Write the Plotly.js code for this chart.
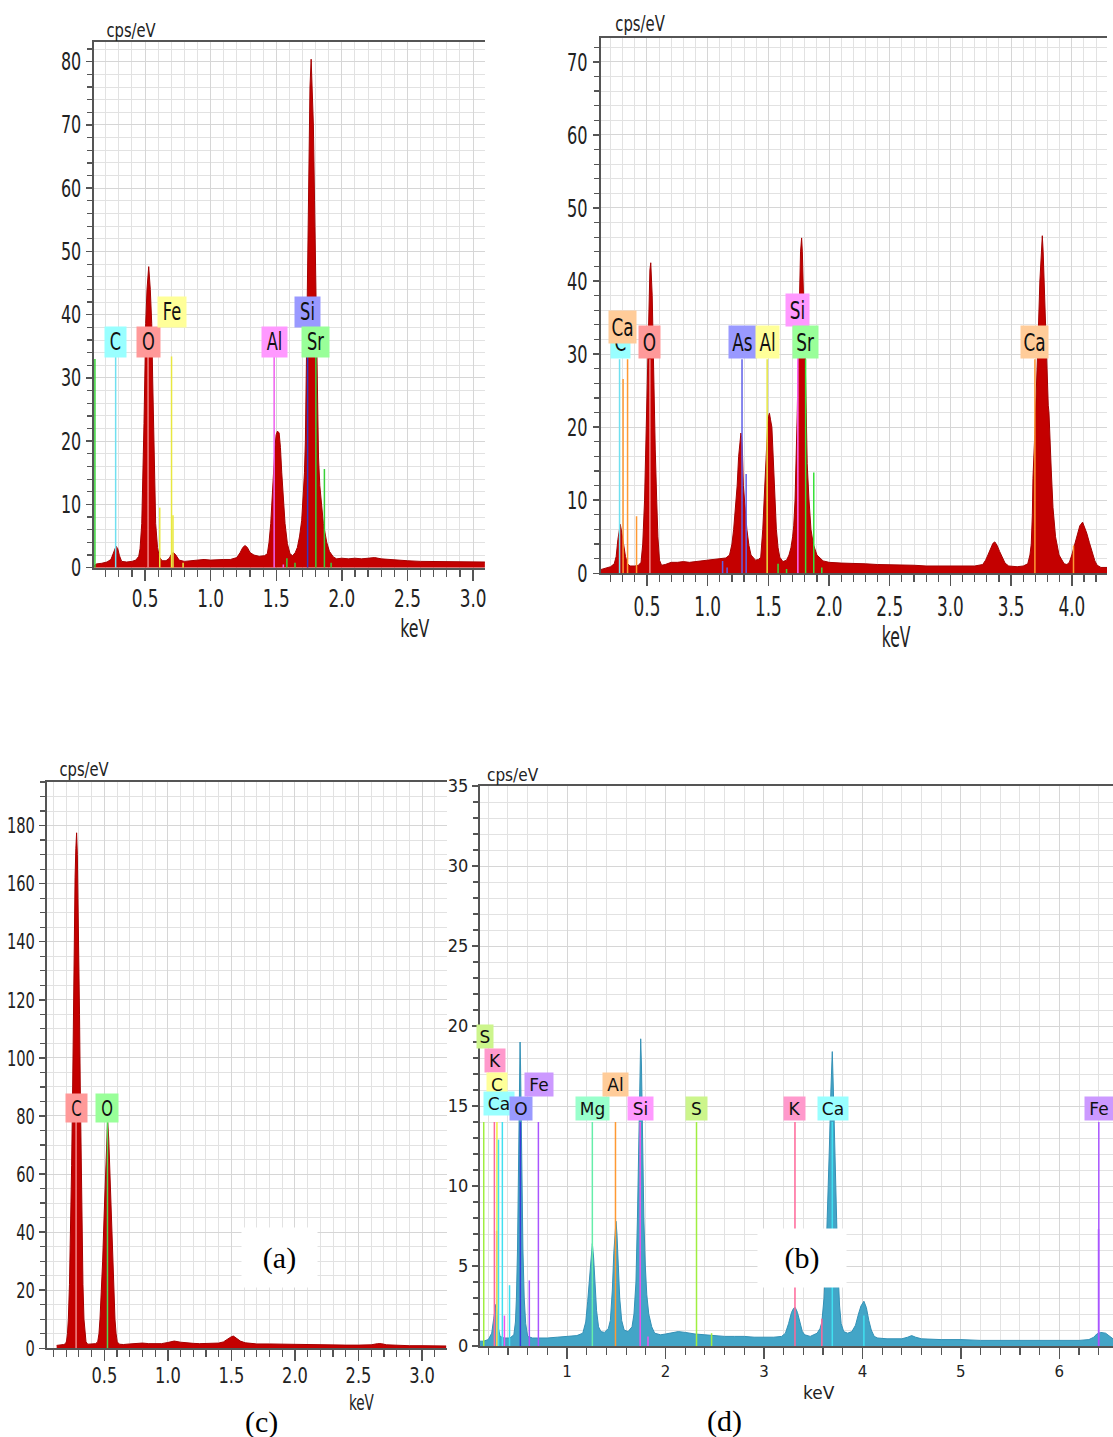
<!DOCTYPE html>
<html><head><meta charset="utf-8">
<script src="https://cdn.plot.ly/plotly-3.0.1.min.js"></script>
<style>html,body{margin:0;padding:0;background:#fff}#chart{width:1113px;height:1437px}</style>
</head><body><div id="chart"></div>
<script>
// ---------------- DATA ----------------
// Panel (a) spectrum: energy (keV) and counts (cps/eV)
const aKeV = [0.111,0.13,0.17,0.21,0.24,0.255,0.268,0.279,0.292,0.305,0.322,0.36,0.40,0.43,0.452,0.462,0.475,0.485,0.492,0.50,0.505,0.515,0.528,0.54,0.551,0.558,0.564,0.572,0.581,0.595,0.609,0.63,0.66,0.685,0.70,0.716,0.735,0.76,0.80,0.85,0.90,0.95,1.0,1.05,1.10,1.15,1.2,1.225,1.245,1.262,1.28,1.30,1.33,1.37,1.41,1.432,1.445,1.458,1.468,1.478,1.49,1.499,1.509,1.522,1.532,1.542,1.554,1.567,1.585,1.605,1.625,1.645,1.661,1.678,1.694,1.706,1.715,1.722,1.727,1.731,1.735,1.742,1.748,1.757,1.766,1.774,1.783,1.792,1.80,1.806,1.81,1.815,1.822,1.832,1.845,1.859,1.872,1.885,1.905,1.935,1.96,2.0,2.05,2.1,2.15,2.2,2.25,2.3,2.35,2.4,2.5,2.6,2.7,2.8,2.9,3.0,3.09];
const aCps = [0.3,0.6,0.7,0.9,1.3,2.2,3.1,3.4,3.0,1.9,1.0,0.9,1.0,1.2,1.8,3,7,14,22.8,32,38.6,44,47.6,44,38.6,30,22.8,13,7,3.2,1.7,1.1,1.1,1.5,2.1,2.4,2.0,1.2,1.0,1.1,1.2,1.3,1.2,1.3,1.3,1.3,1.6,2.4,3.2,3.5,3.2,2.4,2.0,1.8,1.9,2.2,4,7,11,15,19,21,21.6,21.3,19,15,10.5,7,3.8,2.2,1.9,2.4,3.2,5,7.5,11,15,20,28,38,45,58,70,76,80.4,76,70,58,47,40,30,22,17.5,13,9.5,7,5.5,4,2.6,1.7,1.4,1.5,1.4,1.5,1.4,1.5,1.6,1.4,1.3,1.2,1.1,1.0,1.0,0.9,0.9,0.9,0.9];
// Panel (a) element marker lines
const aLineEl  = ['Sr','C','O','Fe','Fe','Fe','Fe','Al','Al','Si','Sr','Sr','Sr','Sr','Sr'];
const aLineKeV = [0.118,0.276,0.523,0.702,0.612,0.713,0.79,1.484,1.554,1.739,1.802,1.867,1.581,1.643,1.918];
const aLineTop = [33,33.4,33.4,33.4,9.5,8.3,0.8,33.4,0.5,33.4,33.4,15.6,1.5,0.8,0.8];
const aLabelEl  = ['C','O','Fe','Al','Si','Sr'];
const aLabelKeV = [0.276,0.523,0.702,1.484,1.739,1.802];

// Panel (b) spectrum
const bKeV = [0.117,0.15,0.20,0.23,0.246,0.26,0.272,0.28,0.29,0.30,0.312,0.323,0.34,0.36,0.40,0.43,0.451,0.465,0.48,0.49,0.50,0.51,0.517,0.524,0.531,0.537,0.543,0.55,0.557,0.568,0.58,0.59,0.603,0.62,0.65,0.70,0.75,0.80,0.85,0.90,0.95,1.0,1.05,1.10,1.15,1.18,1.20,1.214,1.23,1.243,1.255,1.265,1.274,1.28,1.286,1.294,1.308,1.323,1.34,1.357,1.394,1.42,1.437,1.454,1.465,1.474,1.485,1.494,1.502,1.509,1.518,1.529,1.537,1.546,1.556,1.566,1.58,1.594,1.62,1.65,1.67,1.686,1.70,1.709,1.72,1.729,1.738,1.746,1.752,1.757,1.765,1.774,1.78,1.786,1.795,1.803,1.812,1.82,1.835,1.851,1.87,1.9,1.951,2.0,2.1,2.2,2.3,2.4,2.5,2.6,2.7,2.8,2.9,3.0,3.1,3.2,3.266,3.29,3.309,3.33,3.35,3.366,3.385,3.405,3.423,3.45,3.48,3.55,3.6,3.637,3.655,3.666,3.675,3.68,3.695,3.709,3.722,3.737,3.748,3.757,3.764,3.771,3.785,3.797,3.803,3.806,3.812,3.822,3.831,3.845,3.866,3.895,3.937,3.96,3.98,4.0,4.023,4.045,4.066,4.089,4.105,4.123,4.145,4.166,4.19,4.209,4.24,4.29];
const bCps = [0.5,0.7,0.9,1.3,2.3,4.6,6.2,6.7,5.8,4.6,3.2,2.3,1.3,1.0,1.0,1.1,1.5,4,10,17,25,33,38,41.5,42.5,41,38,32,25,17,10,5,1.8,1.1,1.2,1.5,1.5,1.6,1.5,1.6,1.7,1.7,1.8,2.0,2.1,2.5,4,6,9,12,16,18.5,19.2,18.6,17,12,8.5,6,3.8,2.5,1.8,1.9,2.2,6,10,14,18,20.2,21.5,21.9,21,20,17,14,9.5,6,3.5,2.2,1.6,1.8,2.5,3.5,5,6.5,10,15,22,30,36,40,44,45.9,44,40,35,30,22,15,10,6,4,2.5,1.7,1.5,1.4,1.4,1.3,1.2,1.2,1.1,1.1,1.0,1.0,1.0,1.0,1.0,1.2,1.8,2.5,3.4,4.1,4.3,3.8,3.0,2.3,1.4,1.0,0.9,1.0,1.3,2.5,4,8,13,19,25,32,40,44,46.2,44,40,33,27,24,23,22,17,14,9,5,2.5,1.3,1.2,1.5,2.5,4,5.5,6.5,7.0,6.3,5.5,4.2,3.0,1.7,1.1,0.8,0.8];
const bLineEl  = ['C','Ca','Ca','Ca','O','As','As','As','As','Al','Si','Sr','Sr','Sr','Sr','Sr','Ca','Ca'];
const bLineKeV = [0.274,0.303,0.34,0.414,0.524,1.283,1.317,1.123,1.16,1.49,1.743,1.807,1.874,1.58,1.65,1.94,3.696,4.014];
const bLineTop = [29.3,26.6,29.3,7.8,29.3,29.3,13.6,1.7,0.8,29.3,33.9,29.3,13.8,1.3,0.6,0.8,29.3,3.8];
const bLabelEl  = ['C','Ca','O','As','Al','Si','Sr','Ca'];
const bLabelKeV = [0.279,0.301,0.524,1.283,1.49,1.743,1.807,3.696];

// Panel (c) spectrum
const cKeV = [0.125,0.15,0.18,0.195,0.203,0.21,0.217,0.226,0.235,0.243,0.251,0.256,0.261,0.27,0.276,0.282,0.288,0.293,0.298,0.305,0.311,0.318,0.324,0.332,0.34,0.348,0.356,0.37,0.40,0.43,0.448,0.458,0.466,0.477,0.487,0.498,0.508,0.517,0.526,0.535,0.545,0.555,0.566,0.575,0.584,0.593,0.602,0.62,0.65,0.70,0.75,0.80,0.85,0.90,0.95,1.0,1.05,1.10,1.15,1.2,1.25,1.3,1.35,1.40,1.437,1.47,1.50,1.516,1.54,1.57,1.608,1.65,1.7,1.8,1.9,2.0,2.1,2.2,2.3,2.4,2.5,2.6,2.65,2.68,2.72,2.8,2.9,3.0,3.1,3.19];
const cCps = [1.0,1.1,1.3,1.6,2.5,5,10,22,40,63,90,115,140,162,172,177.5,170,158,140,115,90,63,40,22,10,4.5,2.2,1.4,1.4,1.6,2.2,5,10,19,30,45,60,72,78.6,72,60,45,30,19,10,5,2.2,1.4,1.3,1.5,1.6,1.8,1.6,1.5,1.6,2.0,2.5,2.1,1.8,1.7,1.6,1.6,1.7,1.8,2.2,3.2,4.0,4.2,3.5,2.5,1.9,1.6,1.5,1.5,1.4,1.4,1.3,1.3,1.2,1.1,1.1,1.2,1.6,1.6,1.2,1.0,0.9,0.9,0.8,0.8];
const cLineEl  = ['C','O'];
const cLineKeV = [0.278,0.525];
const cLineTop = [78,78];
const cLabelEl  = ['C','O'];
const cLabelKeV = [0.278,0.525];

// Panel (d) spectrum
const dKeV = [0.115,0.15,0.2,0.235,0.255,0.268,0.277,0.288,0.30,0.32,0.36,0.42,0.46,0.476,0.486,0.497,0.505,0.512,0.518,0.523,0.528,0.534,0.542,0.552,0.565,0.58,0.6,0.65,0.7,0.8,0.9,1.0,1.1,1.16,1.19,1.21,1.225,1.24,1.257,1.27,1.285,1.30,1.32,1.344,1.38,1.42,1.44,1.46,1.475,1.488,1.497,1.507,1.52,1.535,1.555,1.58,1.62,1.66,1.68,1.70,1.715,1.728,1.74,1.748,1.756,1.767,1.78,1.795,1.81,1.83,1.86,1.89,1.95,2.0,2.07,2.13,2.2,2.3,2.4,2.5,2.6,2.7,2.8,2.9,3.0,3.1,3.18,3.218,3.25,3.28,3.3,3.318,3.34,3.365,3.39,3.414,3.47,3.54,3.57,3.588,3.61,3.63,3.65,3.665,3.68,3.694,3.705,3.72,3.735,3.75,3.768,3.784,3.81,3.85,3.893,3.93,3.96,3.985,4.015,4.04,4.065,4.09,4.12,4.155,4.25,4.4,4.46,4.5,4.54,4.6,4.8,5.0,5.2,5.5,5.8,6.0,6.2,6.3,6.35,6.38,6.42,6.47,6.51,6.545];
const dCps = [0.3,0.3,0.4,0.8,1.7,2.4,2.6,2.2,1.2,0.6,0.5,0.5,0.7,1.5,3,6,10,14,17.5,19.0,17.5,14,10,6,3,1.4,0.6,0.5,0.5,0.5,0.55,0.6,0.65,0.8,1.5,2.8,4,5.5,6.4,5.5,3.8,2.2,1.2,0.9,0.85,1.1,1.6,3.5,5.8,7.2,7.8,7.0,5.2,3.0,1.6,1.0,0.9,1.2,2.0,4,8,13,17.5,19.2,17.5,13,8,5,3.2,2,1.2,0.8,0.7,0.75,0.85,0.9,0.85,0.75,0.7,0.65,0.6,0.6,0.6,0.55,0.55,0.55,0.6,0.8,1.4,2.1,2.35,2.4,2.1,1.4,0.9,0.7,0.6,0.8,1.1,1.5,3,5.5,9,12.5,16,18.4,16,12,8,5,2.5,1.4,0.9,0.8,0.9,1.3,2.0,2.5,2.8,2.4,1.6,1.0,0.6,0.5,0.45,0.45,0.55,0.65,0.55,0.45,0.4,0.4,0.35,0.35,0.35,0.35,0.35,0.4,0.55,0.75,0.85,0.8,0.6,0.45];
const dLineEl  = ['S','S','S','K','K','K','K','C','Ca','Ca','Ca','Ca','Ca','O','Fe','Fe','Fe','Fe','Mg','Al','Si','Si','Si'];
const dLineKeV = [0.154,2.315,2.468,0.262,3.315,3.588,0.285,0.288,0.304,0.343,0.416,3.694,4.015,0.526,0.709,0.617,6.401,6.398,1.257,1.492,1.743,0.364,1.822];
const dLineTop = [14,14,0.8,14,14,1.7,7.2,14,12.9,14,3.8,14,1.9,14,14,4.1,14,7.3,14,14,14,1.9,0.6];
const dLabelEl  = ['S','K','C','Ca','O','Fe','Mg','Al','Si','S','K','Ca','Fe'];
const dLabelKeV = [0.168,0.267,0.284,0.31,0.53,0.713,1.262,1.492,1.744,2.315,3.315,3.697,6.405];

// ---------------- STYLE / LAYOUT ----------------
const W = 1113, H = 1437;
const px = v => v / W, py = v => 1 - v / H;
const NARROW = "'DejaVu Sans Condensed','DejaVu Sans',sans-serif";
const COND = "'DejaVu Sans Condensed','DejaVu Sans',sans-serif";
const SANS = "'DejaVu Sans',sans-serif";

const panels = [
  { keV:aKeV, cps:aCps, fill:'rgb(196,0,0)', edge:'rgb(165,0,0)',
    xdom:[px(94),px(485)], ydom:[py(567.7),py(42.3)], xr:[0.111,3.091], yr:[0,83.07],
    xd:0.5, xm:0.1, yd:10, ym:2, fmt:'.1f', sq:[0.78,0.74], xso:-3,
    yfont:{family:NARROW,size:24,color:'#222'}, xfont:{family:NARROW,size:24,color:'#222'},
    lineEl:aLineEl, lineKeV:aLineKeV, lineTop:aLineTop, labEl:aLabelEl, labKeV:aLabelKeV,
    labY:[35.65,35.65,40.5,35.65,40.5,35.65], labW:[21,23,28,25,25,27], labH:30,
    labFont:{family:NARROW,size:24,color:'#111'},
    box:{C:'#99FFFF',O:'#FF9999',Fe:'#FFFF99',Al:'#FF99FF',Si:'#9999FF',Sr:'#99FF99'},
    lc:{C:'#70E0F0',O:'#F08888',Fe:'#E8E840',Al:'#F060F0',Si:'#3535C0',Sr:'#38D038'} },
  { keV:bKeV, cps:bCps, fill:'rgb(196,0,0)', edge:'rgb(165,0,0)',
    xdom:[px(600.5),px(1107)], ydom:[py(573.3),py(37.7)], xr:[0.117,4.29], yr:[0,73.3],
    xd:0.5, xm:0.1, yd:10, ym:2, fmt:'.1f', sq:[0.72,0.72], xso:-2,
    yfont:{family:NARROW,size:25,color:'#222'}, xfont:{family:NARROW,size:26,color:'#222'},
    lineEl:bLineEl, lineKeV:bLineKeV, lineTop:bLineTop, labEl:bLabelEl, labKeV:bLabelKeV,
    labY:[31.6,33.7,31.6,31.6,31.6,36.1,31.6,31.6], labW:[19,27,21,27,23,23,25,27], labH:32,
    labFont:{family:NARROW,size:25,color:'#111'},
    box:{C:'#99FFFF',Ca:'#FFCC99',O:'#FF9999',As:'#9999FF',Al:'#FFFF99',Si:'#FF99FF',Sr:'#99FF99'},
    lc:{C:'#70E0F0',Ca:'#FF9933',O:'#F08888',As:'#6060E8',Al:'#E6E640',Si:'#FF66FF',Sr:'#38E038'} },
  { keV:cKeV, cps:cCps, fill:'rgb(196,0,0)', edge:'rgb(165,0,0)',
    xdom:[px(47.3),px(446.7)], ydom:[py(1348.3),py(781.7)], xr:[0.0515,3.194], yr:[0,195.1],
    xd:0.5, xm:0.1, yd:20, ym:5, fmt:'.1f', sq:[0.82,0.74], xso:-5,
    yfont:{family:NARROW,size:22,color:'#222'}, xfont:{family:NARROW,size:22,color:'#222'},
    lineEl:cLineEl, lineKeV:cLineKeV, lineTop:cLineTop, labEl:cLabelEl, labKeV:cLabelKeV,
    labY:[82.8,82.8], labW:[21,22], labH:28,
    labFont:{family:NARROW,size:22,color:'#111'},
    box:{C:'#FF9999',O:'#99FF99'}, lc:{C:'#F08888',O:'#50D850'} },
  { keV:dKeV, cps:dCps, fill:'rgb(67,165,199)', edge:'rgb(52,145,182)',
    xdom:[px(479.9),1], ydom:[py(1346),py(786)], xr:[0.115,6.545], yr:[0,35],
    xd:1, xm:0.2, yd:5, ym:1, fmt:'d', sq:null, xso:0,
    yfont:{family:COND,size:18,color:'#222'}, xfont:{family:SANS,size:15,color:'#222'},
    lineEl:dLineEl, lineKeV:dLineKeV, lineTop:dLineTop, labEl:dLabelEl, labKeV:dLabelKeV,
    labY:[19.33,17.84,16.33,15.13,14.82,16.33,14.82,16.33,14.82,14.82,14.82,14.82,14.82],
    labW:[16,20,20,30,22,28,33,25,25,21,21,30,28], labH:23,
    labFont:{family:SANS,size:17,color:'#111'},
    box:{S:'#CCF58C',K:'#FF99CC',C:'#FFFF99',Ca:'#99FFFF',O:'#9999FF',Fe:'#CC99FF',Mg:'#99FFCC',Al:'#FFCC99',Si:'#FF99FF'},
    lc:{S:'#A0EE40',K:'#FF6699',C:'#EEEE40',Ca:'#40E0F0',O:'#3A3AD8',Fe:'#AA55FF',Mg:'#66EEAA',Al:'#FF9933',Si:'#EE55EE'} }
];

const data = [], shapes = [], annotations = [];
const squeezeAnn = {};   // annotation index -> horizontal squeeze factor
const layout = { width:W, height:H, margin:{l:0,r:0,t:0,b:0}, paper_bgcolor:'#fff', plot_bgcolor:'#fff',
  showlegend:false, shapes, annotations };

panels.forEach((p, i) => {
  const k = i === 0 ? '' : String(i + 1);
  const xr = 'x' + k, yr = 'y' + k;
  data.push({ type:'scatter', mode:'lines', x:p.keV, y:p.cps, xaxis:xr, yaxis:yr,
    fill:'tozeroy', fillcolor:p.fill, line:{color:p.edge, width:1}, hoverinfo:'skip' });
  layout['xaxis' + k] = { domain:p.xdom, range:p.xr, anchor:yr, tick0:0, dtick:p.xd, tickformat:p.fmt,
    showline:true, linecolor:'#555', linewidth:2, mirror:true, zeroline:false,
    ticks:'outside', ticklen:11, tickwidth:1.5, tickcolor:'#555', tickfont:p.xfont, ticklabelstandoff:p.xso,
    showgrid:true, gridcolor:'#d6d6d6', gridwidth:1,
    minor:{dtick:p.xm, ticks:'outside', ticklen:7, tickwidth:1.2, tickcolor:'#555', showgrid:true, gridcolor:'#e2e2e2'} };
  layout['yaxis' + k] = { domain:p.ydom, range:p.yr, anchor:xr, tick0:0, dtick:p.yd,
    showline:true, linecolor:'#555', linewidth:2, zeroline:false,
    ticks:'outside', ticklen:6, tickwidth:1.5, tickcolor:'#555', tickfont:p.yfont,
    showgrid:true, gridcolor:'#d6d6d6', gridwidth:1,
    minor:{dtick:p.ym, ticks:'outside', ticklen:5, tickwidth:1.2, tickcolor:'#555', showgrid:true, gridcolor:'#e2e2e2'} };
  p.lineKeV.forEach((e, j) => {
    shapes.push({ type:'line', xref:xr, yref:yr, x0:e, x1:e, y0:0, y1:p.lineTop[j],
      line:{color:p.lc[p.lineEl[j]], width:1.5}, layer:'above' });
  });
  p.labEl.forEach((el, j) => {
    if (p.sq) squeezeAnn[annotations.length] = 0.75;
    annotations.push({ xref:xr, yref:yr, x:p.labKeV[j], y:p.labY[j], text:el, showarrow:false,
      xanchor:'center', yanchor:'middle', bgcolor:p.box[el], borderpad:0,
      width:p.labW[j], height:p.labH, font:p.labFont });
  });
});

// axis unit labels and captions
const txt = (x, y, t, font, extra, sq) => {
  if (sq) squeezeAnn[annotations.length] = sq;
  annotations.push(Object.assign({ xref:'paper', yref:'paper',
    x:px(x), y:py(y), text:t, showarrow:false, xanchor:'center', yanchor:'middle', font }, extra || {}));
};
txt(99, 30, 'cps/eV', {family:NARROW,size:20,color:'#222'}, {xanchor:'left'}, 0.82);
txt(604.6, 23.7, 'cps/eV', {family:NARROW,size:22,color:'#222'}, {xanchor:'left'}, 0.75);
txt(51.7, 769, 'cps/eV', {family:NARROW,size:20,color:'#222'}, {xanchor:'left'}, 0.82);
txt(485, 775.3, 'cps/eV', {family:COND,size:17,color:'#222'}, {xanchor:'left'});
txt(415, 628.3, 'keV', {family:NARROW,size:25,color:'#222'}, null, 0.7);
txt(897, 637.5, 'keV', {family:NARROW,size:28,color:'#222'}, null, 0.62);
txt(361.7, 1402.5, 'keV', {family:NARROW,size:21,color:'#222'}, null, 0.72);
txt(818.7, 1392.7, 'keV', {family:SANS,size:17,color:'#222'});
const SERIF = {family:"'Liberation Serif','Times New Roman',serif", size:30, color:'#000'};
txt(279.2, 1257.5, '(a)', SERIF, {bgcolor:'#fff', width:75, height:59, borderpad:0});
txt(801.6, 1257.5, '(b)', SERIF, {bgcolor:'#fff', width:88, height:58, borderpad:0});
txt(261.7, 1421.7, '(c)', SERIF);
txt(724.3, 1420.8, '(d)', SERIF);

const gd = document.getElementById('chart');
Plotly.newPlot(gd, data, layout, {displayModeBar:false, staticPlot:true}).then(() => {
  // the reference uses a horizontally compressed typeface: narrow the glyphs, keeping anchors
  const squeeze = (el, f) => {
    const L = el.getComputedTextLength();
    if (L > 0) { el.setAttribute('textLength', (L * f).toFixed(1)); el.setAttribute('lengthAdjust', 'spacingAndGlyphs'); }
  };
  ['xy', 'x2y2', 'x3y3'].forEach((s, i) => {
    const f = panels[i].sq;
    gd.querySelectorAll('.subplot.' + s + ' .xaxislayer-above text').forEach(t => squeeze(t, f[0]));
    gd.querySelectorAll('.subplot.' + s + ' .yaxislayer-above text').forEach(t => squeeze(t, f[1]));
  });
  gd.querySelectorAll('g.annotation').forEach(g => {
    const idx = +g.getAttribute('data-index');
    if (squeezeAnn[idx]) g.querySelectorAll('text').forEach(t => squeeze(t, squeezeAnn[idx]));
  });
});
</script>
</body></html>
